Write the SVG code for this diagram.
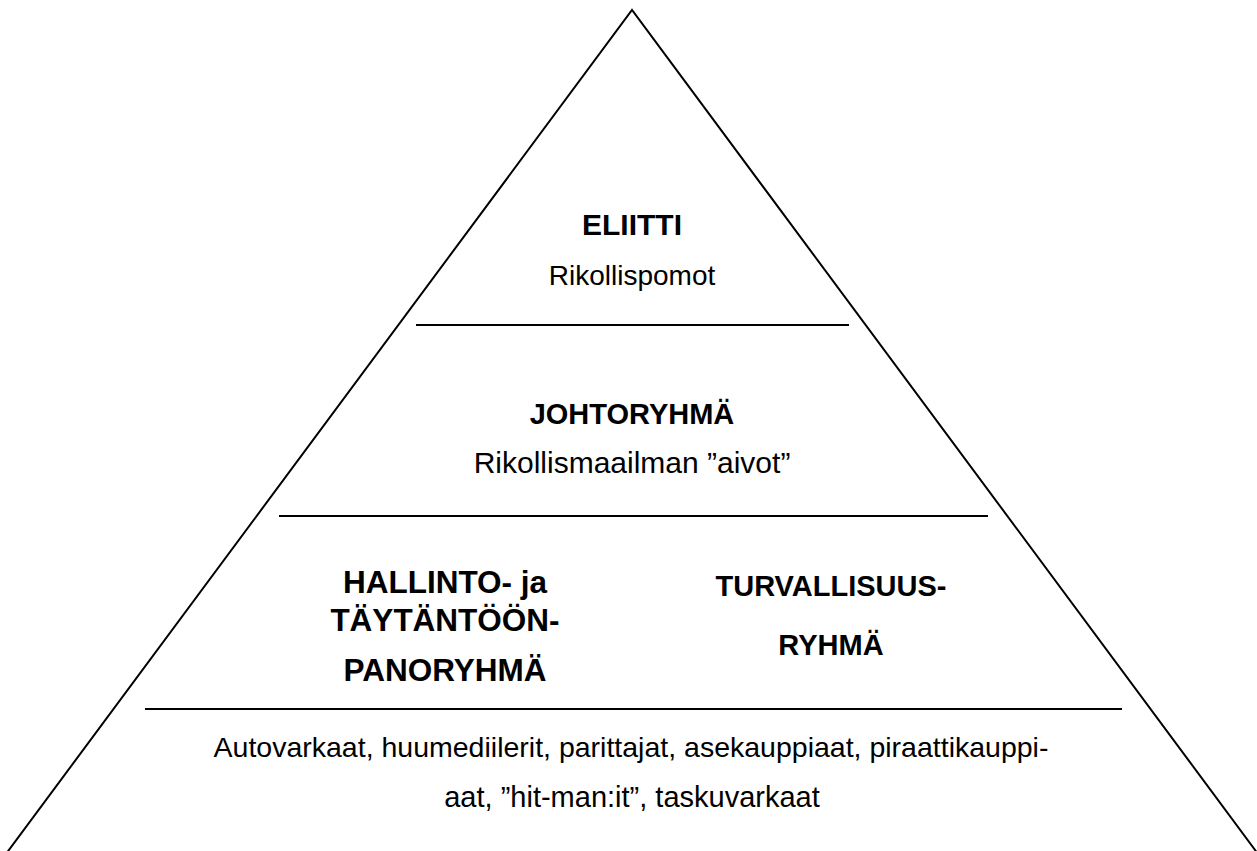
<svg xmlns="http://www.w3.org/2000/svg" width="1257" height="851" viewBox="0 0 1257 851">
<style>
.ln{stroke:#000;stroke-width:2;fill:none}
text{font-family:"Liberation Sans",Arial,sans-serif;font-size:29px;fill:#000;text-anchor:middle}
.b{font-weight:bold}
.l{font-size:31.5px}
.m{font-size:30px}
</style>
<rect width="1257" height="851" fill="#fff"/>
<g id="connectors">
<polyline class="ln" points="0,862 632,10 1264,862"/>
<line class="ln" x1="416" y1="325" x2="849" y2="325"/>
<line class="ln" x1="279" y1="516" x2="988" y2="516"/>
<line class="ln" x1="145" y1="709" x2="1122" y2="709"/>
</g>
<g id="eliitti">
<text class="b m" x="632" y="235">ELIITTI</text>
<text x="632" y="285" style="font-size:28px">Rikollispomot</text>
</g>
<g id="johtoryhma">
<text class="b" x="632" y="424">JOHTORYHMÄ</text>
<text class="m" x="632" y="473">Rikollismaailman ”aivot”</text>
</g>
<g id="hallinto">
<text class="b l" x="445" y="593">HALLINTO- ja</text>
<text class="b l" x="445" y="631">TÄYTÄNTÖÖN-</text>
<text class="b l" x="445" y="681">PANORYHMÄ</text>
</g>
<g id="turvallisuus">
<text class="b" x="831" y="596">TURVALLISUUS-</text>
<text class="b" x="831" y="655">RYHMÄ</text>
</g>
<g id="pohja">
<text x="631" y="757" style="font-size:28.5px">Autovarkaat, huumediilerit, parittajat, asekauppiaat, piraattikauppi-</text>
<text x="632" y="807">aat, ”hit-man:it”, taskuvarkaat</text>
</g>
</svg>
